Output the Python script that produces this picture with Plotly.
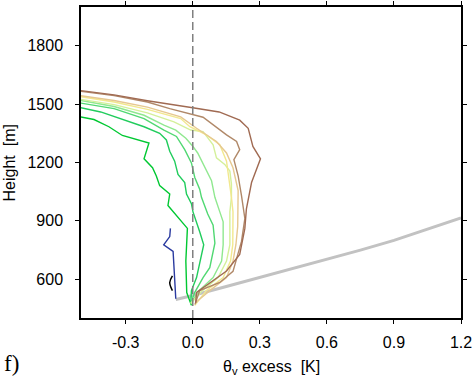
import plotly.graph_objects as go

# ---- data ----
x_ticks = [-0.3, 0.0, 0.3, 0.6, 0.9, 1.2]
x_tick_labels = ["-0.3", "0.0", "0.3", "0.6", "0.9", "1.2"]
y_ticks = [600, 900, 1200, 1500, 1800]
y_tick_labels = ["600", "900", "1200", "1500", "1800"]

c1_x = [-0.006, -0.027, -0.031, -0.024, -0.111, -0.103, -0.148, -0.163, -0.180, -0.218, -0.196, -0.315, -0.375, -0.442, -0.502, -0.55]
c1_y = [465, 531, 693, 861, 979, 1038, 1081, 1131, 1173, 1219, 1300, 1339, 1384, 1421, 1435, 1446]

c2_x = [-0.009, -0.006, 0.017, 0.031, 0.049, 0.031, 0.001, -0.006, -0.028, -0.036, -0.066, -0.081, -0.103, -0.118, -0.148, -0.218, -0.322, -0.412, -0.502, -0.55]
c2_y = [475, 541, 608, 676, 777, 844, 946, 988, 1038, 1097, 1139, 1207, 1258, 1316, 1350, 1384, 1426, 1460, 1482, 1493]

c3_x = [-0.009, 0.009, 0.046, 0.076, 0.099, 0.091, 0.067, 0.039, 0.031, 0.009, -0.006, -0.036, -0.073, -0.129, -0.218, -0.352, -0.502, -0.55]
c3_y = [475, 532, 608, 659, 785, 878, 935, 1021, 1063, 1123, 1198, 1266, 1334, 1367, 1426, 1477, 1506, 1514]

c4_x = [-0.009, 0.028, 0.091, 0.129, 0.136, 0.136, 0.121, 0.099, 0.084, 0.054, 0.022, 0.000, -0.031, -0.076, -0.129, -0.218, -0.352, -0.502, -0.55]
c4_y = [475, 541, 608, 693, 777, 895, 946, 1021, 1106, 1173, 1249, 1284, 1325, 1366, 1392, 1443, 1488, 1519, 1526]

c5_x = [-0.009, 0.043, 0.113, 0.151, 0.166, 0.166, 0.166, 0.173, 0.173, 0.166, 0.143, 0.106, 0.091, 0.046, -0.009, -0.084, -0.203, -0.352, -0.502, -0.55]
c5_y = [475, 541, 608, 693, 777, 870, 946, 1021, 1089, 1156, 1190, 1224, 1291, 1359, 1367, 1409, 1455, 1498, 1527, 1534]

c6_x = [0.009, 0.061, 0.136, 0.169, 0.179, 0.180, 0.173, 0.166, 0.151, 0.121, 0.061, -0.013, -0.054, -0.203, -0.352, -0.502, -0.55]
c6_y = [465, 541, 608, 693, 777, 946, 1021, 1089, 1207, 1291, 1342, 1384, 1426, 1473, 1511, 1539, 1546]

c7_x = [0.013, 0.076, 0.151, 0.180, 0.193, 0.201, 0.203, 0.180, 0.151, 0.106, 0.017, -0.054, -0.203, -0.352, -0.502, -0.55]
c7_y = [480, 541, 608, 693, 777, 870, 1055, 1173, 1249, 1308, 1376, 1435, 1485, 1519, 1544, 1551]

c8_x = [0.010, 0.031, 0.121, 0.180, 0.218, 0.233, 0.218, 0.203, 0.184, 0.210, 0.196, 0.151, 0.046, -0.103, -0.203, -0.352, -0.502, -0.55]
c8_y = [470, 541, 583, 640, 794, 912, 1030, 1131, 1215, 1266, 1308, 1342, 1433, 1477, 1511, 1544, 1566, 1572]

c9_x = [0.013, 0.017, 0.151, 0.210, 0.233, 0.240, 0.263, 0.303, 0.269, 0.248, 0.210, 0.118, 0.0, -0.103, -0.203, -0.352, -0.502, -0.55]
c9_y = [478, 532, 642, 727, 861, 962, 1097, 1219, 1283, 1376, 1418, 1460, 1482, 1500, 1518, 1548, 1573, 1577]

blue_x = [-0.076, -0.088, -0.130, -0.103, -0.100]
blue_y = [499, 743, 777, 819, 861]

black_x = [-0.091, -0.103, -0.091]
black_y = [617, 583, 541]

gray_x = [-0.076, 0.0, 0.15, 0.3, 0.45, 0.6, 0.75, 0.9, 1.05, 1.2]
gray_y = [495, 516, 562, 608, 654, 701, 749, 799, 855, 915]

curves = [
    (c1_x, c1_y, "#00c832"),
    (c2_x, c2_y, "#20cc5c"),
    (c3_x, c3_y, "#50d872"),
    (c4_x, c4_y, "#90e890"),
    (c5_x, c5_y, "#d4f09a"),
    (c6_x, c6_y, "#f2e88e"),
    (c7_x, c7_y, "#e6c890"),
    (c8_x, c8_y, "#b08868"),
    (c9_x, c9_y, "#a06a52"),
]

fig = go.Figure()

fig.add_trace(go.Scatter(x=gray_x, y=gray_y, mode="lines",
                         line=dict(color="#c2c2c2", width=3), showlegend=False))
for cx, cy, col in curves:
    fig.add_trace(go.Scatter(x=cx, y=cy, mode="lines",
                             line=dict(color=col, width=1.4), showlegend=False))
fig.add_trace(go.Scatter(x=blue_x, y=blue_y, mode="lines",
                         line=dict(color="#2a3aa0", width=1.4), showlegend=False))
fig.add_trace(go.Scatter(x=black_x, y=black_y, mode="lines", line_shape="spline",
                         line=dict(color="#000000", width=1.5), showlegend=False))

fig.add_shape(type="line", xref="x", yref="paper", x0=0, x1=0, y0=0, y1=1,
              line=dict(color="#808080", width=1.5, dash="8px,4px"), layer="above")

font = "Liberation Sans, Arial, sans-serif"
axis_common = dict(showgrid=False, zeroline=False, showline=True, linecolor="black",
                   linewidth=1.5, mirror="ticks", ticks="outside", ticklen=4,
                   tickcolor="black", tickwidth=1,
                   tickfont=dict(family=font, size=16, color="black"))

fig.update_layout(
    width=473, height=376,
    margin=dict(l=81, r=12, t=1, b=58),
    paper_bgcolor="white", plot_bgcolor="white",
    xaxis=dict(range=[-0.5, 1.2], tickvals=x_ticks, ticktext=x_tick_labels,
               ticklabelstandoff=5, **axis_common),
    yaxis=dict(range=[400, 2000], tickvals=y_ticks, ticktext=y_tick_labels,
               ticklabelstandoff=9, **axis_common),
    annotations=[
        dict(text="θ<sub>v</sub> excess\u00a0\u00a0[K]", xref="paper", yref="paper",
             x=0.5, y=-0.158, xanchor="center", yanchor="middle", showarrow=False,
             font=dict(family=font, size=16, color="black")),
        dict(text="Height\u00a0\u00a0[m]", xref="paper", yref="paper", textangle=-90,
             x=-0.187, y=0.5, xanchor="center", yanchor="middle", showarrow=False,
             font=dict(family=font, size=16, color="black")),
        dict(text="f)", xref="paper", yref="paper", x=-0.208, y=-0.147,
             xanchor="left", yanchor="middle", showarrow=False,
             font=dict(family="Liberation Serif, Times New Roman, serif", size=23, color="black")),
    ],
)

fig.write_html("out.html", config={"displayModeBar": False},
               post_script="document.body.style.margin='0';document.body.style.overflow='hidden';")
